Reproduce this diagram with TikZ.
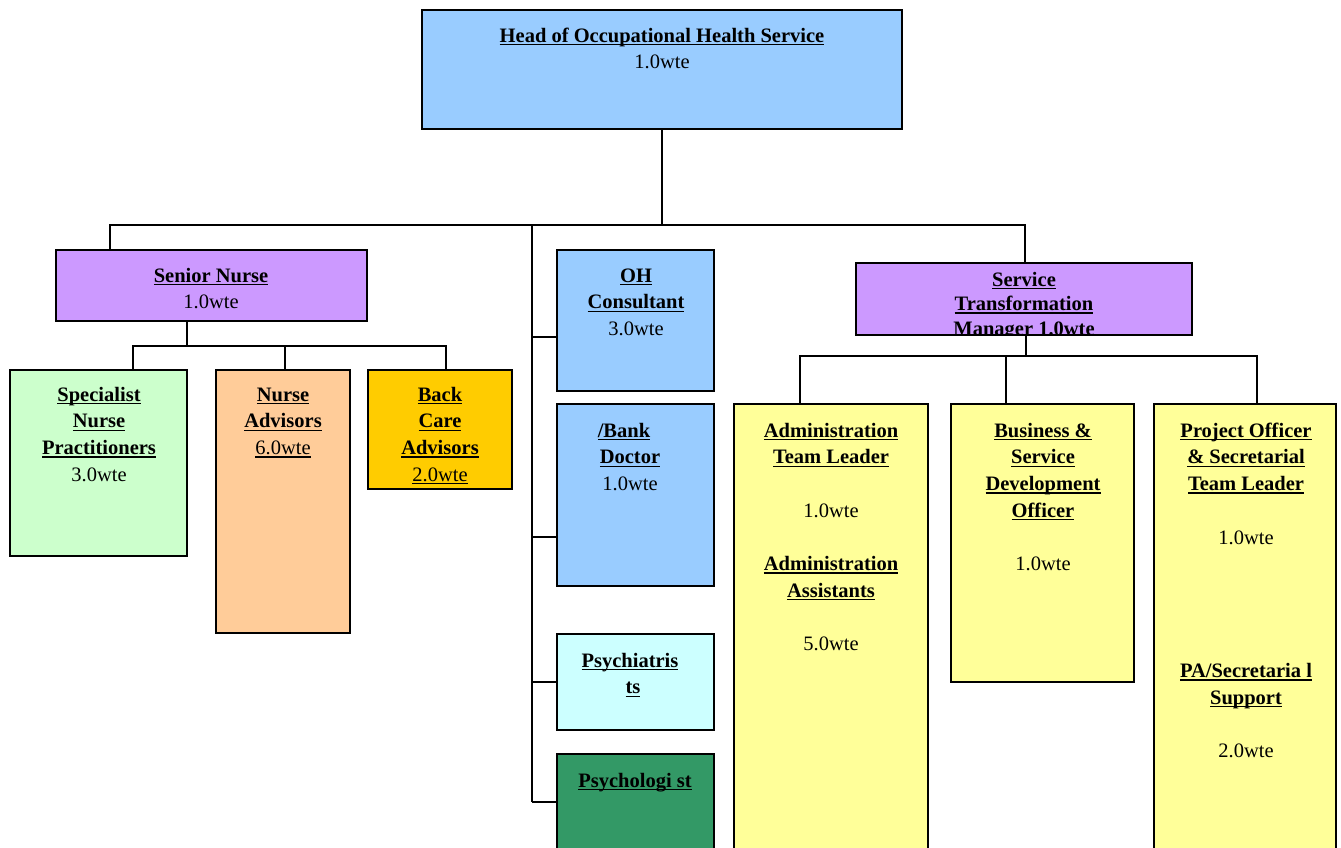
\documentclass[tikz,border=0pt]{standalone}
\usepackage{fontspec}
\setmainfont{Liberation Serif}
\newcommand\uu[1]{\setbox0\hbox{#1}\rlap{\rule[-3pt]{\wd0}{1.3pt}}\box0}
\newcommand\ub[1]{\uu{\bfseries #1}}
\newcommand\fs{\rule{0pt}{16pt}}
\definecolor{hblue}{HTML}{99CCFF}
\definecolor{hpurple}{HTML}{CC99FF}
\definecolor{hgreen}{HTML}{CCFFCC}
\definecolor{hpeach}{HTML}{FFCC99}
\definecolor{hgold}{HTML}{FFCC00}
\definecolor{hcyan}{HTML}{CCFFFF}
\definecolor{hdgreen}{HTML}{339966}
\definecolor{hyellow}{HTML}{FFFF99}
\begin{document}
\begin{tikzpicture}[x=1pt,y=-1pt,
  box/.style={draw=black, line width=1.8pt, rectangle, inner sep=0pt, outer sep=0pt, anchor=north west},
  conn/.style={line width=1.8pt},
  txt/.style={anchor=north, inner sep=0pt, align=center, font=\fontsize{20.5}{26.7}\selectfont}]
\clip (0,0) rectangle (1341,848);
\fill[white] (0,0) rectangle (1341,848);
% boxes
\node[box, fill=hblue, minimum width=480pt, minimum height=119pt] (hd) at (422,10) {};
\node[box, fill=hpurple, minimum width=311pt, minimum height=71pt] (sn) at (56,250) {};
\node[box, fill=hgreen, minimum width=177pt, minimum height=186pt] (spn) at (10,370) {};
\node[box, fill=hpeach, minimum width=134pt, minimum height=263pt] (nad) at (216,370) {};
\node[box, fill=hgold, minimum width=144pt, minimum height=119pt] (bca) at (368,370) {};
\node[box, fill=hblue, minimum width=157pt, minimum height=141pt] (ohc) at (557,250) {};
\node[box, fill=hblue, minimum width=157pt, minimum height=182pt] (bdr) at (557,404) {};
\node[box, fill=hcyan, minimum width=157pt, minimum height=96pt] (psy) at (557,634) {};
\node[box, fill=hdgreen, minimum width=157pt, minimum height=120pt] (psl) at (557,754) {};
\node[box, fill=hpurple, minimum width=336pt, minimum height=72pt] (stm) at (856,263) {};
\node[box, fill=hyellow, minimum width=194pt, minimum height=470pt] (adm) at (734,404) {};
\node[box, fill=hyellow, minimum width=183pt, minimum height=278pt] (bus) at (951,404) {};
\node[box, fill=hyellow, minimum width=182pt, minimum height=470pt] (prj) at (1154,404) {};
% texts
\node[txt] (hdt) at (662,26) {\fs\ub{Head of Occupational Health Service}\\1.0wte};
\node[txt] (snt) at (211,266) {\fs\ub{Senior Nurse}\\1.0wte};
\node[txt] (spnt) at (99,385) {\fs\ub{Specialist}\\\ub{Nurse}\\\ub{Practitioners}\\3.0wte};
\node[txt] (nadt) at (283,385) {\fs\ub{Nurse}\\\ub{Advisors}\\\uu{6.0wte}};
\node[txt] (bcat) at (440,385) {\fs\ub{Back}\\\ub{Care}\\\ub{Advisors}\\\uu{2.0wte}};
\node[txt] (ohct) at (636,266) {\fs\ub{OH}\\\ub{Consultant}\\3.0wte};
\node[txt] (bdrt) at (630,421) {\fs\hspace*{-12pt}\ub{/Bank}\\\ub{Doctor}\\1.0wte};
\node[txt] (psyt) at (630,651) {\fs\ub{Psychiatris}\\\hspace*{6pt}\ub{ts}};
\node[txt] (pslt) at (635,771) {\fs\ub{Psychologi st}};
\begin{scope}
\clip (stm.north west) rectangle (stm.south east);
\node[txt, font=\fontsize{20.5}{24.5}\selectfont] (stmt) at (1024,270) {\fs\ub{Service}\\\ub{Transformation}\\\ub{Manager 1.0wte}};
\end{scope}
\node[txt] (admt) at (831,421) {\fs\ub{Administration}\\\ub{Team Leader}\\[26.7pt]1.0wte\\[26.7pt]\ub{Administration}\\\ub{Assistants}\\[26.7pt]5.0wte};
\node[txt] (bust) at (1043,421) {\fs\ub{Business \&}\\\ub{Service}\\\ub{Development}\\\ub{Officer}\\[26.7pt]1.0wte};
\node[txt] (prjt) at (1246,421) {\fs\ub{Project Officer}\\\ub{\& Secretarial}\\\ub{Team Leader}\\[26.7pt]1.0wte\\[106.8pt]\ub{PA/Secretaria l}\\\ub{Support}\\[26.7pt]2.0wte};
% connectors
\coordinate (j1) at (662,225);
\coordinate (jL) at (110,225);
\coordinate (jR) at (1025,225);
\coordinate (jV) at (532,225);
\draw[conn] (hd.south) -- (j1);
\draw[conn] (jL |- sn.north) -- (jL) -- (jR) -- (jR |- stm.north);
\draw[conn] (jV) -- (532,802);
\draw[conn] (532,337) -- (ohc.west |- 0,337);
\draw[conn] (532,537) -- (bdr.west |- 0,537);
\draw[conn] (532,682) -- (psy.west |- 0,682);
\draw[conn] (532,802) -- (psl.west |- 0,802);
\coordinate (s1) at (187,346);
\draw[conn] (sn.south -| s1) -- (s1);
\draw[conn] (spn.north -| 133,0) -- (133,346) -- (446,346) -- (bca.north -| 446,0);
\draw[conn] (285,346) -- (nad.north -| 285,0);
\coordinate (t1) at (1026,356);
\draw[conn] (stm.south -| t1) -- (t1);
\draw[conn] (adm.north -| 800,0) -- (800,356) -- (1257,356) -- (prj.north -| 1257,0);
\draw[conn] (1006,356) -- (bus.north -| 1006,0);
\end{tikzpicture}
\end{document}
